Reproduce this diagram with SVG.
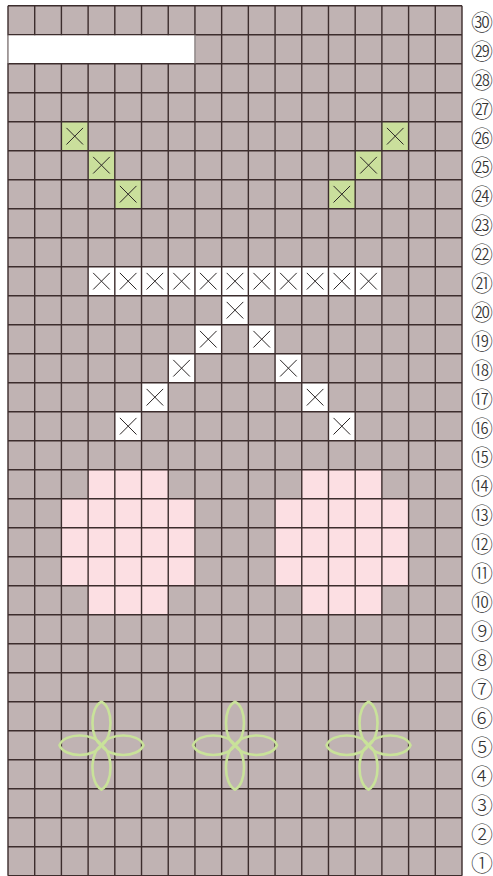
<svg xmlns="http://www.w3.org/2000/svg" xmlns:xlink="http://www.w3.org/1999/xlink" width="493" height="876" viewBox="0 0 493 876">
<style>
.bg{fill:#c0b3b3}
.pink{fill:#fcdfe3}
.green{fill:#cadf9c}
.white{fill:#ffffff}
.grid{stroke:#3c2d2d;stroke-width:1.4;fill:none}
.x{stroke:#2b2626;stroke-width:1;fill:none}
.petal{stroke:#c9e29a;stroke-width:2.6;fill:none;stroke-linejoin:round}
.lbl{font-family:"Noto Sans CJK JP","DejaVu Sans",sans-serif;font-size:22px;font-weight:300;fill:#333;text-anchor:middle;dominant-baseline:central}
</style>
<defs>
<path id="xm" class="x" d="M-8.3,-8.3L8.3,8.3M8.3,-8.3L-8.3,8.3"/>
<g id="flower" class="petal">
<path d="M0,0 C-12,-7 -12,-38 0,-43.5 C12,-38 12,-7 0,0Z"/>
<path d="M0,0 C-12,7 -12,38 0,44.5 C12,38 12,7 0,0Z"/>
<path d="M0,0 C-7,-13 -37,-13 -42,0 C-37,13 -7,13 0,0Z"/>
<path d="M0,0 C7,-13 37,-13 42,0 C37,13 7,13 0,0Z"/>
</g>
</defs>
<g id="background">
<rect class="bg" x="8" y="5.7" width="454" height="870"/>
</g>
<g id="pink-left" class="pink">
<rect x="88.12" y="469.7" width="80.12" height="29"/>
<rect x="61.41" y="498.7" width="133.53" height="87"/>
<rect x="88.12" y="585.7" width="80.12" height="29"/>
</g>
<g id="pink-right" class="pink">
<rect x="301.76" y="469.7" width="80.12" height="29"/>
<rect x="275.06" y="498.7" width="133.53" height="87"/>
<rect x="301.76" y="585.7" width="80.12" height="29"/>
</g>
<g id="green-cells" class="green">
<rect x="61.41" y="121.7" width="26.71" height="29"/>
<rect x="88.12" y="150.7" width="26.71" height="29"/>
<rect x="114.82" y="179.7" width="26.71" height="29"/>
<rect x="381.88" y="121.7" width="26.71" height="29"/>
<rect x="355.18" y="150.7" width="26.71" height="29"/>
<rect x="328.47" y="179.7" width="26.71" height="29"/>
</g>
<g id="white-cells" class="white">
<rect x="88.12" y="266.7" width="293.76" height="29"/>
<rect x="221.65" y="295.7" width="26.71" height="29"/>
<rect x="194.94" y="324.7" width="26.71" height="29"/>
<rect x="248.35" y="324.7" width="26.71" height="29"/>
<rect x="168.24" y="353.7" width="26.71" height="29"/>
<rect x="275.06" y="353.7" width="26.71" height="29"/>
<rect x="141.53" y="382.7" width="26.71" height="29"/>
<rect x="301.76" y="382.7" width="26.71" height="29"/>
<rect x="114.82" y="411.7" width="26.71" height="29"/>
<rect x="328.47" y="411.7" width="26.71" height="29"/>
</g>
<g id="grid" class="grid">
<path d="M8,5.7V875.7M34.71,5.7V875.7M61.41,5.7V875.7M88.12,5.7V875.7M114.82,5.7V875.7M141.53,5.7V875.7M168.24,5.7V875.7M194.94,5.7V875.7M221.65,5.7V875.7M248.35,5.7V875.7M275.06,5.7V875.7M301.76,5.7V875.7M328.47,5.7V875.7M355.18,5.7V875.7M381.88,5.7V875.7M408.59,5.7V875.7M435.29,5.7V875.7M462,5.7V875.7"/>
<path d="M8,5.7H462M8,34.7H462M8,63.7H462M8,92.7H462M8,121.7H462M8,150.7H462M8,179.7H462M8,208.7H462M8,237.7H462M8,266.7H462M8,295.7H462M8,324.7H462M8,353.7H462M8,382.7H462M8,411.7H462M8,440.7H462M8,469.7H462M8,498.7H462M8,527.7H462M8,556.7H462M8,585.7H462M8,614.7H462M8,643.7H462M8,672.7H462M8,701.7H462M8,730.7H462M8,759.7H462M8,788.7H462M8,817.7H462M8,846.7H462M8,875.7H462"/>
</g>
<g id="blank-box">
<rect x="7.3" y="35.4" width="188.3" height="27.6" fill="#ffffff"/>
<path d="M8,34.7V63.7M194.94,34.7V63.7" stroke="#7a7070" stroke-width="1.2"/>
</g>
<g id="green-x">
<use xlink:href="#xm" transform="translate(74.76,136.2)"/>
<use xlink:href="#xm" transform="translate(101.47,165.2)"/>
<use xlink:href="#xm" transform="translate(128.18,194.2)"/>
<use xlink:href="#xm" transform="translate(395.24,136.2)"/>
<use xlink:href="#xm" transform="translate(368.53,165.2)"/>
<use xlink:href="#xm" transform="translate(341.82,194.2)"/>
</g>
<g id="white-x">
<use xlink:href="#xm" transform="translate(101.47,281.2)"/>
<use xlink:href="#xm" transform="translate(128.18,281.2)"/>
<use xlink:href="#xm" transform="translate(154.88,281.2)"/>
<use xlink:href="#xm" transform="translate(181.59,281.2)"/>
<use xlink:href="#xm" transform="translate(208.29,281.2)"/>
<use xlink:href="#xm" transform="translate(235,281.2)"/>
<use xlink:href="#xm" transform="translate(261.71,281.2)"/>
<use xlink:href="#xm" transform="translate(288.41,281.2)"/>
<use xlink:href="#xm" transform="translate(315.12,281.2)"/>
<use xlink:href="#xm" transform="translate(341.82,281.2)"/>
<use xlink:href="#xm" transform="translate(368.53,281.2)"/>
<use xlink:href="#xm" transform="translate(235,310.2)"/>
<use xlink:href="#xm" transform="translate(208.29,339.2)"/>
<use xlink:href="#xm" transform="translate(261.71,339.2)"/>
<use xlink:href="#xm" transform="translate(181.59,368.2)"/>
<use xlink:href="#xm" transform="translate(288.41,368.2)"/>
<use xlink:href="#xm" transform="translate(154.88,397.2)"/>
<use xlink:href="#xm" transform="translate(315.12,397.2)"/>
<use xlink:href="#xm" transform="translate(128.18,426.2)"/>
<use xlink:href="#xm" transform="translate(341.82,426.2)"/>
</g>
<g id="flowers">
<use xlink:href="#flower" transform="translate(101.47,745.2)"/>
<use xlink:href="#flower" transform="translate(235,745.2)"/>
<use xlink:href="#flower" transform="translate(368.53,745.2)"/>
</g>
<g id="row-labels" class="lbl">
<text x="482" y="20.2">㉚</text>
<text x="482" y="49.2">㉙</text>
<text x="482" y="78.2">㉘</text>
<text x="482" y="107.2">㉗</text>
<text x="482" y="136.2">㉖</text>
<text x="482" y="165.2">㉕</text>
<text x="482" y="194.2">㉔</text>
<text x="482" y="223.2">㉓</text>
<text x="482" y="252.2">㉒</text>
<text x="482" y="281.2">㉑</text>
<text x="482" y="310.2">⑳</text>
<text x="482" y="339.2">⑲</text>
<text x="482" y="368.2">⑱</text>
<text x="482" y="397.2">⑰</text>
<text x="482" y="426.2">⑯</text>
<text x="482" y="455.2">⑮</text>
<text x="482" y="484.2">⑭</text>
<text x="482" y="513.2">⑬</text>
<text x="482" y="542.2">⑫</text>
<text x="482" y="571.2">⑪</text>
<text x="482" y="600.2">⑩</text>
<text x="482" y="629.2">⑨</text>
<text x="482" y="658.2">⑧</text>
<text x="482" y="687.2">⑦</text>
<text x="482" y="716.2">⑥</text>
<text x="482" y="745.2">⑤</text>
<text x="482" y="774.2">④</text>
<text x="482" y="803.2">③</text>
<text x="482" y="832.2">②</text>
<text x="482" y="861.2">①</text>
</g>
</svg>
